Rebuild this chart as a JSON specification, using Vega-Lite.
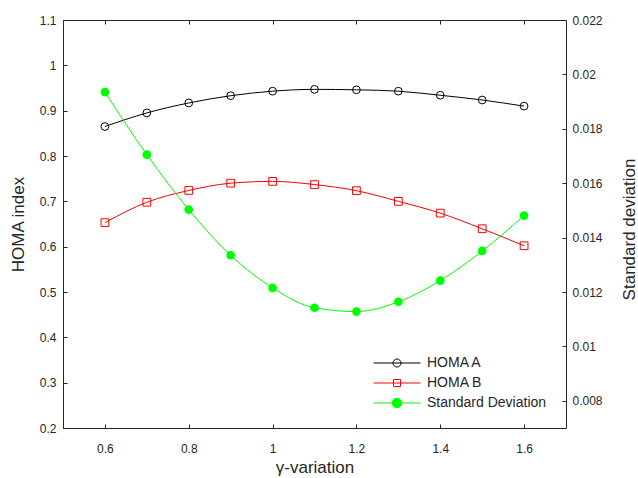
{
  "$schema": "https://vega.github.io/schema/vega-lite/v6.json",
  "width": 503,
  "height": 408,
  "autosize": "none",
  "padding": {"left": 63, "top": 20, "right": 72, "bottom": 50},
  "background": "white",
  "config": {
    "view": {"stroke": null},
    "font": "Liberation Sans",
    "axis": {
      "grid": false,
      "domainColor": "#262626",
      "tickColor": "#262626",
      "labelColor": "#262626",
      "titleColor": "#262626",
      "labelFont": "Liberation Sans",
      "titleFont": "Liberation Sans",
      "labelFontSize": 12,
      "titleFontSize": 17,
      "titleFontWeight": "normal",
      "tickSize": -4,
      "domainWidth": 1,
      "tickWidth": 1
    },
    "legend": {
      "labelFont": "Liberation Sans",
      "labelFontSize": 14,
      "labelColor": "#262626"
    }
  },
  "datasets": {
    "d": [
      {"x": 0.6, "series": "HOMA A", "value": 0.865},
      {"x": 0.7, "series": "HOMA A", "value": 0.895},
      {"x": 0.8, "series": "HOMA A", "value": 0.917},
      {"x": 0.9, "series": "HOMA A", "value": 0.933},
      {"x": 1.0, "series": "HOMA A", "value": 0.943},
      {"x": 1.1, "series": "HOMA A", "value": 0.947},
      {"x": 1.2, "series": "HOMA A", "value": 0.946},
      {"x": 1.3, "series": "HOMA A", "value": 0.943},
      {"x": 1.4, "series": "HOMA A", "value": 0.934},
      {"x": 1.5, "series": "HOMA A", "value": 0.9235},
      {"x": 1.6, "series": "HOMA A", "value": 0.91},
      {"x": 0.6, "series": "HOMA B", "value": 0.653},
      {"x": 0.7, "series": "HOMA B", "value": 0.698},
      {"x": 0.8, "series": "HOMA B", "value": 0.724},
      {"x": 0.9, "series": "HOMA B", "value": 0.74},
      {"x": 1.0, "series": "HOMA B", "value": 0.744},
      {"x": 1.1, "series": "HOMA B", "value": 0.737},
      {"x": 1.2, "series": "HOMA B", "value": 0.7235},
      {"x": 1.3, "series": "HOMA B", "value": 0.7},
      {"x": 1.4, "series": "HOMA B", "value": 0.674},
      {"x": 1.5, "series": "HOMA B", "value": 0.6395},
      {"x": 1.6, "series": "HOMA B", "value": 0.602},
      {"x": 0.6, "series": "Standard Deviation", "value": 0.01935},
      {"x": 0.7, "series": "Standard Deviation", "value": 0.01705},
      {"x": 0.8, "series": "Standard Deviation", "value": 0.01503},
      {"x": 0.9, "series": "Standard Deviation", "value": 0.01335},
      {"x": 1.0, "series": "Standard Deviation", "value": 0.01215},
      {"x": 1.1, "series": "Standard Deviation", "value": 0.01142},
      {"x": 1.2, "series": "Standard Deviation", "value": 0.01128},
      {"x": 1.3, "series": "Standard Deviation", "value": 0.01164},
      {"x": 1.4, "series": "Standard Deviation", "value": 0.01242},
      {"x": 1.5, "series": "Standard Deviation", "value": 0.01351},
      {"x": 1.6, "series": "Standard Deviation", "value": 0.01481}
    ]
  },
  "data": {"name": "d"},
  "layer": [
    {
      "transform": [{"filter": "datum.series !== 'Standard Deviation'"}],
      "encoding": {
        "x": {
          "field": "x", "type": "quantitative",
          "scale": {"domain": [0.5, 1.7], "nice": false, "zero": false},
          "axis": {"orient": "bottom", "values": [0.6, 0.8, 1.0, 1.2, 1.4, 1.6], "format": "~g", "title": "γ-variation", "labelPadding": 19, "titlePadding": 5}
        },
        "y": {
          "field": "value", "type": "quantitative",
          "scale": {"domain": [0.2, 1.1], "nice": false, "zero": false},
          "axis": {"orient": "left", "values": [0.2, 0.3, 0.4, 0.5, 0.6, 0.7, 0.8, 0.9, 1.0, 1.1], "format": "~g", "title": "HOMA index", "labelPadding": 11, "titlePadding": 12}
        },
        "color": {
          "field": "series", "type": "nominal",
          "scale": {"domain": ["HOMA A", "HOMA B", "Standard Deviation"], "range": ["#000000", "#ff0000", "#00ff00"]},
          "legend": {
            "title": null,
            "orient": "none",
            "legendX": 310,
            "legendY": 333,
            "padding": 0,
            "symbolSize": 2209,
            "symbolStrokeWidth": 1,
            "clipHeight": 20,
            "rowPadding": 0,
            "labelOffset": 6,
            "encode": {
              "symbols": {
                "update": {
                  "shape": {"signal": "datum.value === 'HOMA A' ? 'M-1,0H1M-0.17,0A0.17,0.17,0,1,0,0.17,0A0.17,0.17,0,1,0,-0.17,0' : datum.value === 'HOMA B' ? 'M-1,0H1M-0.15,-0.15H0.15V0.15H-0.15Z' : 'M-1,0H1M-0.2,0A0.2,0.2,0,1,0,0.2,0A0.2,0.2,0,1,0,-0.2,0'"},
                  "fill": {"signal": "datum.value === 'Standard Deviation' ? '#00ff00' : 'white'"},
                  "fillOpacity": {"signal": "datum.value === 'Standard Deviation' ? 1 : 0"},
                  "stroke": {"signal": "datum.value === 'HOMA A' ? '#000000' : datum.value === 'HOMA B' ? '#ff0000' : '#00ff00'"},
                  "strokeWidth": {"value": 1},
                  "opacity": {"value": 1}
                }
              }
            }
          }
        }
      },
      "layer": [
        {"mark": {"type": "line", "interpolate": "monotone", "strokeWidth": 1}},
        {
          "mark": {"type": "point", "filled": false, "size": 60, "strokeWidth": 1, "opacity": 1},
          "encoding": {
            "shape": {
              "field": "series", "type": "nominal",
              "scale": {"domain": ["HOMA A", "HOMA B"], "range": ["circle", "square"]},
              "legend": null
            }
          }
        }
      ]
    },
    {
      "transform": [{"filter": "datum.series === 'Standard Deviation'"}],
      "encoding": {
        "x": {"field": "x", "type": "quantitative", "axis": null},
        "y": {
          "field": "value", "type": "quantitative",
          "scale": {"domain": [0.007, 0.022], "nice": false, "zero": false},
          "axis": {"orient": "right", "values": [0.008, 0.01, 0.012, 0.014, 0.016, 0.018, 0.02, 0.022], "format": "~g", "title": "Standard deviation", "titleAngle": 270, "titleX": 63, "titleY": 209, "titleAlign": "center", "titleBaseline": "middle", "labelPadding": 10}
        },
        "color": {"field": "series", "type": "nominal"}
      },
      "layer": [
        {"mark": {"type": "line", "interpolate": "monotone", "strokeWidth": 1}},
        {"mark": {"type": "point", "filled": true, "shape": "circle", "size": 75, "opacity": 1}}
      ]
    },
    {
      "mark": {"type": "point", "opacity": 0},
      "encoding": {
        "x": {
          "field": "x", "type": "quantitative",
          "axis": {"orient": "top", "values": [0.6, 0.8, 1.0, 1.2, 1.4, 1.6], "labels": false, "title": null}
        }
      }
    }
  ],
  "resolve": {"scale": {"y": "independent"}, "axis": {"x": "independent"}}
}
